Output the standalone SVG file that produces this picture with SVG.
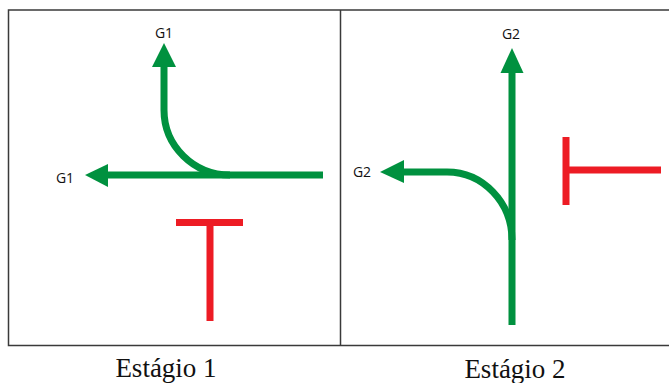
<svg xmlns="http://www.w3.org/2000/svg" width="669" height="383" viewBox="0 0 669 383">
<style>
.frame{fill:none;stroke:#3a3a3a;stroke-width:1.5}
.g{fill:none;stroke:#00913F;stroke-width:7}
.gh{fill:#00913F}
.r{fill:none;stroke:#ED1C24;stroke-width:7}
.lbl{font-family:"Open Sans","Liberation Sans",sans-serif;font-size:14px;fill:#111}
.cap{font-family:"Liberation Serif","Times New Roman","DejaVu Serif",serif;font-size:27px;fill:#111;text-anchor:middle}
</style>
<rect width="669" height="383" fill="#fff"/>
<g id="frame">
<path class="frame" d="M669 10 H8.5 V345.5 H669 M340.5 10 V345.5"/>
</g>
<g id="connectors">
<path class="g" d="M323 175 H104"/>
<path class="gh" d="M85 175 L108 164 L108 187 Z"/>
<path class="g" d="M230 175 A66 65 0 0 1 164 110 V64"/>
<path class="gh" d="M164 43 L152 67 L176 67 Z"/>
<path class="g" d="M512 325 V68"/>
<path class="gh" d="M512 48 L500.5 73 L523.5 73 Z"/>
<path class="g" d="M512 240 A65 68 0 0 0 447 172 H400"/>
<path class="gh" d="M380 172 L404 160 L404 183 Z"/>
</g>
<g id="signal1">
<path class="r" d="M176 222.5 H243 M210 222 V321"/>
</g>
<g id="signal2">
<path class="r" d="M566 137 V205 M566 170 H661"/>
</g>
<g id="labels">
<text class="lbl" x="164" y="38" text-anchor="middle">G1</text>
<text class="lbl" x="65" y="183" text-anchor="middle">G1</text>
<text class="lbl" x="511" y="39" text-anchor="middle">G2</text>
<text class="lbl" x="362" y="177" text-anchor="middle">G2</text>
<text class="cap" x="166" y="377">Estágio 1</text>
<text class="cap" x="515" y="378">Estágio 2</text>
</g>
</svg>
